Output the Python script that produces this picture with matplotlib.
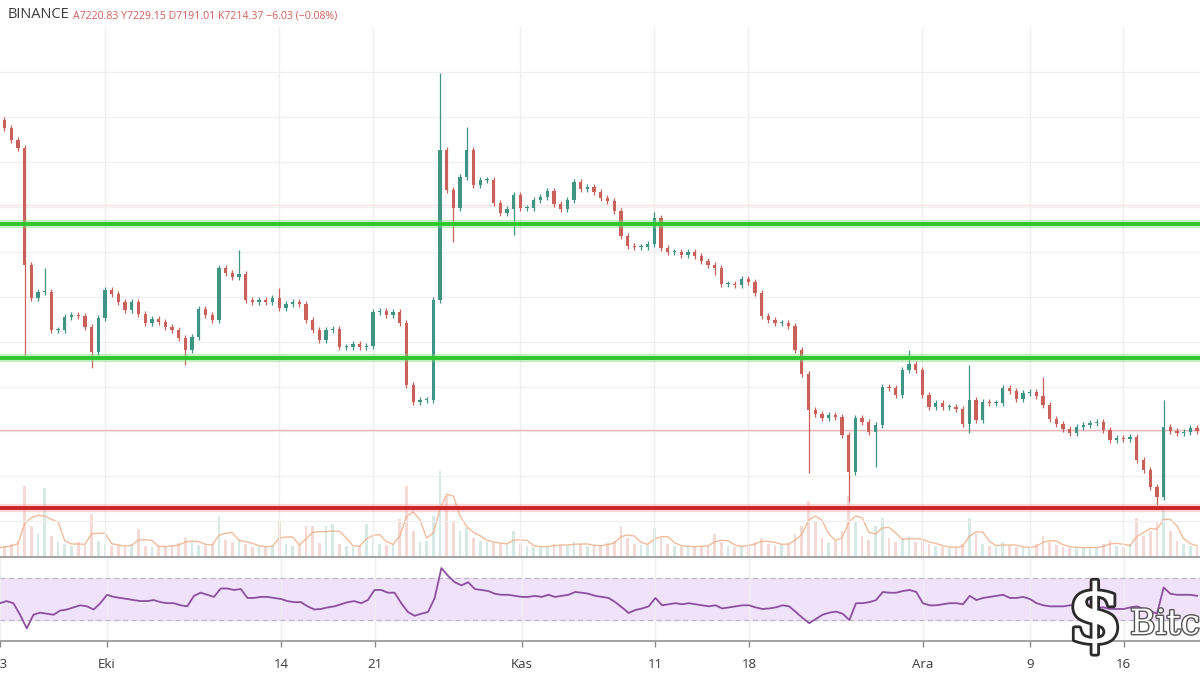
import numpy as np
import pandas as pd
import matplotlib
matplotlib.use("Agg")
import matplotlib.pyplot as plt
import matplotlib.dates as mdates
import matplotlib.patheffects as pe

plt.rcParams['font.family'] = ['Open Sans', 'DejaVu Sans']

# ---------------- data ----------------
start = "2019-09-23 00:00"          # 12h candles
first_open = 10016
closes = [9972, 9901, 9794, 9723, 8682, 8388, 8441, 8441, 8103, 8103,
          8219, 8237, 8228, 8130, 7907, 8210, 8459, 8423, 8352, 8281,
          8352, 8245, 8165, 8201, 8174, 8130, 8103, 8032, 7925, 8041,
          8290, 8237, 8192, 8655, 8610, 8575, 8601, 8370, 8352, 8370,
          8352, 8388, 8299, 8334, 8352, 8334, 8192, 8103, 8014, 8103,
          8112, 7952, 7952, 7978, 7952, 7961, 8263, 8272, 8237, 8263,
          8165, 7614, 7462, 7480, 7480, 8370, 9705, 9349, 9189, 9465,
          9705, 9394, 9438, 9438, 9233, 9144, 9180, 9305, 9189, 9189,
          9260, 9287, 9340, 9224, 9180, 9260, 9420, 9358, 9376, 9331,
          9278, 9251, 9162, 8940, 8851, 8842, 8842, 8868, 9100, 8833,
          8797, 8797, 8770, 8797, 8762, 8717, 8682, 8655, 8512, 8512,
          8504, 8557, 8530, 8432, 8228, 8192, 8165, 8165, 8139, 7925,
          7711, 7391, 7355, 7320, 7347, 7329, 7169, 6839, 7320, 7284,
          7195, 7258, 7596, 7587, 7525, 7747, 7800, 7747, 7525, 7418,
          7453, 7418, 7418, 7400, 7266, 7480, 7302, 7462, 7453, 7453,
          7587, 7560, 7489, 7542, 7551, 7516, 7436, 7311, 7266, 7222,
          7186, 7240, 7258, 7275, 7284, 7213, 7124, 7142, 7133, 7151,
          6946, 6857, 6706, 6617, 7240, 7204, 7186, 7195, 7231, 7204]
high_wicks = {7: 8655, 36: 8815, 42: 8477, 66: 10390, 70: 9910, 98: 9153,
              136: 7925, 145: 7792, 156: 7685, 174: 7480}
low_wicks = {4: 7863, 14: 7765, 28: 7792, 68: 8886, 77: 8949, 107: 8593,
             121: 6830, 127: 6572, 131: 6884, 145: 7186, 173: 6546}
volume = [8, 10, 12, 15, 70, 30, 22, 68, 20, 14,
          12, 10, 14, 11, 42, 15, 12, 10, 11, 9,
          12, 27, 10, 9, 10, 9, 11, 13, 18, 14,
          11, 10, 12, 40, 16, 14, 17, 12, 9, 10,
          9, 10, 35, 12, 10, 11, 30, 30, 13, 30,
          32, 12, 10, 9, 10, 32, 20, 12, 11, 12,
          37, 70, 25, 14, 15, 40, 85, 60, 35, 25,
          28, 18, 15, 14, 13, 12, 11, 25, 12, 10,
          9, 9, 10, 12, 11, 10, 14, 12, 10, 10,
          11, 13, 15, 30, 18, 12, 11, 12, 28, 18,
          12, 10, 9, 10, 9, 10, 11, 22, 14, 10,
          9, 10, 12, 14, 18, 12, 11, 12, 13, 22,
          30, 55, 35, 18, 14, 15, 25, 60, 35, 20,
          16, 30, 38, 18, 14, 18, 20, 14, 16, 12,
          10, 9, 8, 9, 12, 38, 22, 12, 10, 9,
          14, 10, 9, 8, 9, 12, 20, 14, 11, 9,
          8, 9, 8, 9, 8, 12, 16, 10, 9, 12,
          38, 20, 25, 35, 50, 25, 15, 12, 10, 9]
rsi = [46, 48, 46, 35, 22, 35, 37, 36, 35, 39,
       40, 42, 44, 43, 40, 46, 54, 52, 51, 50,
       49, 48, 48, 49, 47, 46, 46, 44, 43, 53,
       56, 54, 52, 60, 60, 58.6, 59.5, 51, 51, 52,
       52, 51, 50, 48, 47, 47, 43, 40, 40.5, 42,
       43, 45, 47, 48, 46, 49, 58.6, 58.6, 56, 56,
       46, 37.6, 34, 36, 37.6, 51, 79.5, 72, 66, 63,
       66, 59.5, 58.6, 57.6, 55, 54, 54, 53, 52, 52,
       53, 52, 54, 52, 53, 54, 56.7, 56, 55, 53,
       52, 51, 47, 42, 36.7, 39.5, 41, 43, 51, 44,
       45, 46, 45, 46, 45, 44, 43, 44, 41, 42,
       43, 44, 44, 42, 40.5, 41, 42, 44, 43, 37.6,
       32, 27, 31, 35, 37, 38, 36, 30, 46, 46,
       47, 49, 56.7, 56, 56, 57.6, 58.6, 56.7, 46, 44,
       44, 45, 46, 46, 45, 53, 49, 51, 52, 53,
       54, 51, 51, 52, 50, 46, 44, 43, 43, 43,
       44, 44, 43, 42, 42, 42, 40.5, 40.5, 40.5, 42,
       43, 40.5, 38.6, 36, 61, 55, 54, 54, 54, 53]
resistance_levels = [9045, 7854]
floor_level = 6519
last_price = 7214.37
price_grid = [6400, 6800, 7200, 7600, 8000, 8400, 8800, 9200, 9600, 10000, 10400]
tick_dates = ["2019-09-23", "2019-10-01", "2019-10-14", "2019-10-21", "2019-11-01",
              "2019-11-11", "2019-11-18", "2019-12-01", "2019-12-09", "2019-12-16"]
tick_labels = ["23", "Eki", "14", "21", "Kas", "11", "18", "Ara", "9", "16"]
header_symbol = "BINANCE"
header_ohlc = "A7220.83 Y7229.15 D7191.01 K7214.37 \u22126.03 (\u22120.08%)"

# ---------------- derived ----------------
W, H = 1200, 675
times = pd.date_range(start, periods=len(closes), freq="12h")
xs = mdates.date2num(times)
closes_a = np.array(closes, float)
opens_a = np.concatenate([[first_open], closes_a[:-1]])
WICK_PAD = 30
highs_a = np.maximum(opens_a, closes_a) + WICK_PAD
lows_a = np.minimum(opens_a, closes_a) - WICK_PAD
for k, v in high_wicks.items():
    highs_a[k] = v
for k, v in low_wicks.items():
    lows_a[k] = v
up = closes_a >= opens_a
UP_C, DN_C = '#3f9484', '#c9605a'
colors = np.where(up, UP_C, DN_C)

oct1 = mdates.date2num(pd.Timestamp("2019-10-01"))
ppd = 13.4
xlim = (oct1 - 105 / ppd, oct1 + (W - 105) / ppd)
tick_x = mdates.date2num(pd.to_datetime(tick_dates))

fig = plt.figure(figsize=(W / 100, H / 100), dpi=100)
fig.patch.set_facecolor('white')

def fy(py):
    return 1 - py / H

main_top, main_bot = 27, 556
pos_main = [0, fy(main_bot), 1, (main_bot - main_top) / H]

# volume (behind)
axv = fig.add_axes(pos_main, zorder=0)
axv.set_xlim(*xlim)
axv.set_ylim(0, main_bot - main_top)
vcol = np.where(up, '#cfe6e1', '#f3d3cf')
axv.bar(xs, volume, width=0.2, color=vcol, alpha=0.85, linewidth=0)
vma = pd.Series(volume).rolling(3, min_periods=1).mean()
axv.plot(xs, vma, color='#eeb08a', lw=1.0, alpha=0.85)
axv.axis('off')

# price
ax = fig.add_axes(pos_main, zorder=1)
ax.patch.set_alpha(0)
ax.set_xlim(*xlim)
ax.set_ylim(11040 - 8.9 * main_bot, 11040 - 8.9 * main_top)
for g in price_grid:
    ax.axhline(g, color='#f0f0f0', lw=1, zorder=0)
for tx in tick_x:
    ax.axvline(tx, color='#efefef', lw=1, zorder=0)
ax.axhline(9216, color='#f8e4e4', lw=1, zorder=0)
ax.axhline(last_price, color='#f3b5b5', lw=1, zorder=1)

ax.vlines(xs, lows_a, highs_a, colors=colors, lw=0.9, zorder=3)
body = np.maximum(np.abs(closes_a - opens_a), 8)
ax.bar(xs, body, bottom=np.minimum(opens_a, closes_a), width=0.24,
       color=colors, linewidth=0, zorder=4)

for lv in resistance_levels:
    ax.axhline(lv, color='#7be07b', lw=6, alpha=0.45, zorder=5)
    ax.axhline(lv, color='#2fc52f', lw=2.8, zorder=6)
ax.axhline(floor_level, color='#f4a3a3', lw=6, alpha=0.45, zorder=5)
ax.axhline(floor_level, color='#cc2424', lw=2.8, zorder=6)
ax.axis('off')

# RSI pane
rsi_top, rsi_bot = 557, 641
axr = fig.add_axes([0, fy(rsi_bot), 1, (rsi_bot - rsi_top) / H])
axr.set_xlim(*xlim)
axr.set_ylim(10, 90)
axr.axhspan(30, 70, color='#f0e2fa', zorder=0)
axr.axhline(70, color='#b9b9c4', lw=0.9, ls=(0, (4, 3)), zorder=1)
axr.axhline(30, color='#b9b9c4', lw=0.9, ls=(0, (4, 3)), zorder=1)
for tx in tick_x:
    axr.axvline(tx, color='#efefef', lw=1, zorder=0)
axr.plot(xs, rsi, color='#8b4f9f', lw=1.3, zorder=3)
for s in ['left', 'right']:
    axr.spines[s].set_visible(False)
for s in ['top', 'bottom']:
    axr.spines[s].set_color('#9c9c9c')
    axr.spines[s].set_linewidth(1.3)
axr.set_yticks([])
axr.set_xticks(tick_x)
axr.set_xticklabels(tick_labels)
axr.tick_params(axis='x', direction='out', length=4, width=1, color='#8a8a8a',
                labelsize=9.5, labelcolor='#3a3a3a', pad=8)

# header
fig.text(8 / W, fy(15), header_symbol, fontsize=10.5, color='#3c3c3c',
         va='center', ha='left')
fig.text(73 / W, fy(16), header_ohlc, fontsize=7.6, color='#d0605b',
         va='center', ha='left')

# watermark
fig.text(1095 / W, fy(620), "$", fontsize=58, fontweight='bold',
         family='DejaVu Serif', color='white', ha='center', va='center',
         path_effects=[pe.withStroke(linewidth=4, foreground='#2a2a2a')])
fig.text(1130 / W, fy(624), "Bitc", fontsize=25, family='DejaVu Serif',
         color='white', ha='left', va='center',
         path_effects=[pe.withStroke(linewidth=2, foreground='#555555')])

fig.savefig("out.png", dpi=100, facecolor='white')
